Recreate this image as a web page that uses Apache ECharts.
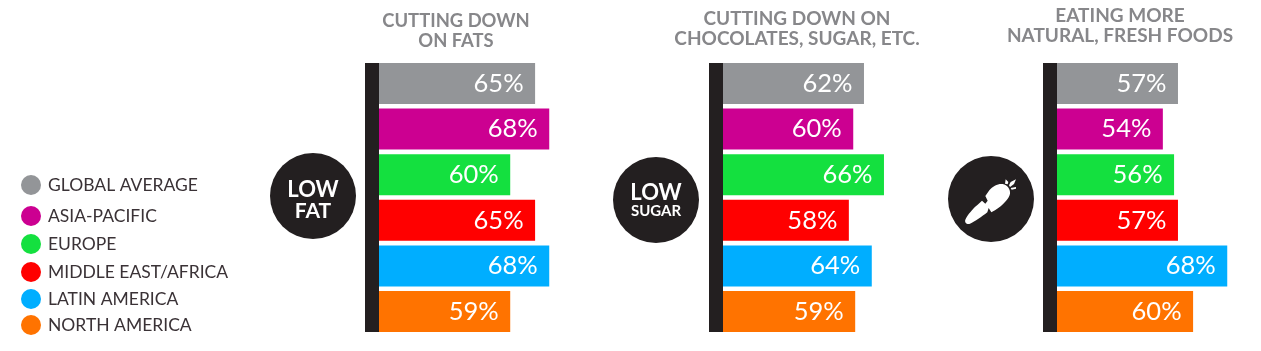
<!DOCTYPE html>
<html>
<head>
<meta charset="utf-8">
<style>
  html, body { margin: 0; padding: 0; background: #fff; }
  #box { width: 1261px; height: 351px; }
</style>
<script src="https://cdn.jsdelivr.net/npm/echarts@6/dist/echarts.min.js"></script>
</head>
<body>
<div id="box"></div>
<script>
const regions = ["GLOBAL AVERAGE", "ASIA-PACIFIC", "EUROPE", "MIDDLE EAST/AFRICA", "LATIN AMERICA", "NORTH AMERICA"];
const regionColors = ["#939598", "#cc0091", "#14e03f", "#ff0000", "#00aeff", "#ff7300"];

// printed figures
const fatLabels = [65, 68, 60, 65, 68, 59];
const sugarLabels = [62, 60, 66, 58, 64, 59];
const naturalLabels = [57, 54, 56, 57, 68, 60];

// bar lengths, they don't follow the printed figures exactly
const fatBars = [65.2, 68.1, 60.1, 65.2, 68.1, 60.1];
const sugarBars = [62.1, 59.9, 66.2, 59.0, 63.7, 60.3];
const naturalBars = [58.0, 54.9, 57.2, 58.0, 68.1, 61.1];

const panelTitles = ["CUTTING DOWN\nON FATS", "CUTTING DOWN ON\nCHOCOLATES, SUGAR, ETC.", "EATING MORE\nNATURAL, FRESH FOODS"];

const axisMin = 33.2;
const axisMax = 74.2;
const fontName = "Lato";
const dark = "#231f20";

const panels = [
  { left: 379, bars: fatBars, labels: fatLabels, titleX: 456, titleY: 11, titleSize: 18.4 },
  { left: 723, bars: sugarBars, labels: sugarLabels, titleX: 797, titleY: 9, titleSize: 19 },
  { left: 1057, bars: naturalBars, labels: naturalLabels, titleX: 1120, titleY: 6, titleSize: 19 }
];
const legendTops = [185, 216, 244, 272, 299, 325];

let series = [];
panels.forEach((p, pi) => {
  regions.forEach((name, ri) => {
    series.push({
      type: "bar",
      name: name,
      xAxisIndex: pi,
      yAxisIndex: pi,
      stack: "panel" + pi,
      barWidth: 41,
      itemStyle: { color: regionColors[ri] },
      data: p.bars.map((v, i) => (i === ri ? v : null)),
      label: {
        show: true,
        position: "insideRight",
        distance: 11.5,
        color: "#fff",
        fontFamily: fontName,
        fontSize: 25.5,
        formatter: () => p.labels[ri] + "%"
      }
    });
  });
});

// white text on the round badges
function badgeText(x, y, text, size) {
  return {
    type: "text",
    x: x,
    y: y,
    style: {
      text: text,
      fill: "#fff",
      font: "bold " + size + "px " + fontName,
      textAlign: "center",
      textVerticalAlign: "middle"
    }
  };
}
function badge(x, y) {
  return { type: "circle", shape: { cx: x, cy: y, r: 43 }, style: { fill: dark } };
}

const carrot = "M16 143 C23 128 38 110 53 98 L66 86 L76 95 L83 86 L76 72 L88 55 C98 42 115 34 128 36 " +
  "C142 38 152 52 150 65 C147 80 130 98 105 115 L94 121 L86 108 L82 121 C65 134 45 149 30 155 C20 158 13 151 16 143 Z " +
  "M135 35 L137 22 L145 30 L143 37 Z M147 40 L152 30 L168 22 L162 36 L150 45 Z M152 48 L168 45 L168 50 L155 53 Z";
echarts.graphic.registerShape("carrot", echarts.graphic.extendPath(carrot, {}));

let graphics = [];
panels.forEach(p => {
  graphics.push({ type: "rect", shape: { x: p.left - 14, y: 63, width: 14, height: 269 }, style: { fill: dark } });
});
graphics.push(badge(313, 196), badge(656, 200), badge(991, 199));
graphics.push(badgeText(313, 190, "LOW", 22), badgeText(313, 211, "FAT", 21));
graphics.push(badgeText(656, 193, "LOW", 22), badgeText(656, 211, "SUGAR", 15));
graphics.push({
  type: "carrot",
  x: 960,
  y: 172,
  scaleX: 1 / 3,
  scaleY: 1 / 3,
  style: { fill: "#fff" }
});

const option = {
  animation: false,
  backgroundColor: "#fff",
  title: panels.map((p, i) => ({
    text: panelTitles[i],
    left: p.titleX,
    top: p.titleY,
    padding: 0,
    textAlign: "center",
    textStyle: {
      color: "#87878a",
      fontFamily: fontName,
      fontWeight: "bold",
      fontSize: p.titleSize,
      lineHeight: 20
    }
  })),
  legend: regions.map((name, i) => ({
    data: [name],
    left: 21,
    top: legendTops[i] - 10,
    padding: 0,
    itemWidth: 20,
    itemHeight: 20,
    itemGap: 0,
    icon: "circle",
    selectedMode: false,
    textStyle: {
      color: "#3a3236",
      fontFamily: fontName,
      fontSize: 17.5,
      padding: [0, 0, 0, 2]
    }
  })),
  grid: panels.map(p => ({ left: p.left, top: 60.7, width: 200, height: 273.6 })),
  xAxis: panels.map((p, i) => ({ type: "value", gridIndex: i, min: axisMin, max: axisMax, show: false })),
  yAxis: panels.map((p, i) => ({ type: "category", gridIndex: i, data: regions, inverse: true, show: false })),
  series: series,
  graphic: { elements: graphics }
};

let chart = echarts.init(document.getElementById("box"), null, { renderer: "canvas" });
chart.setOption(option);
</script>
</body>
</html>
